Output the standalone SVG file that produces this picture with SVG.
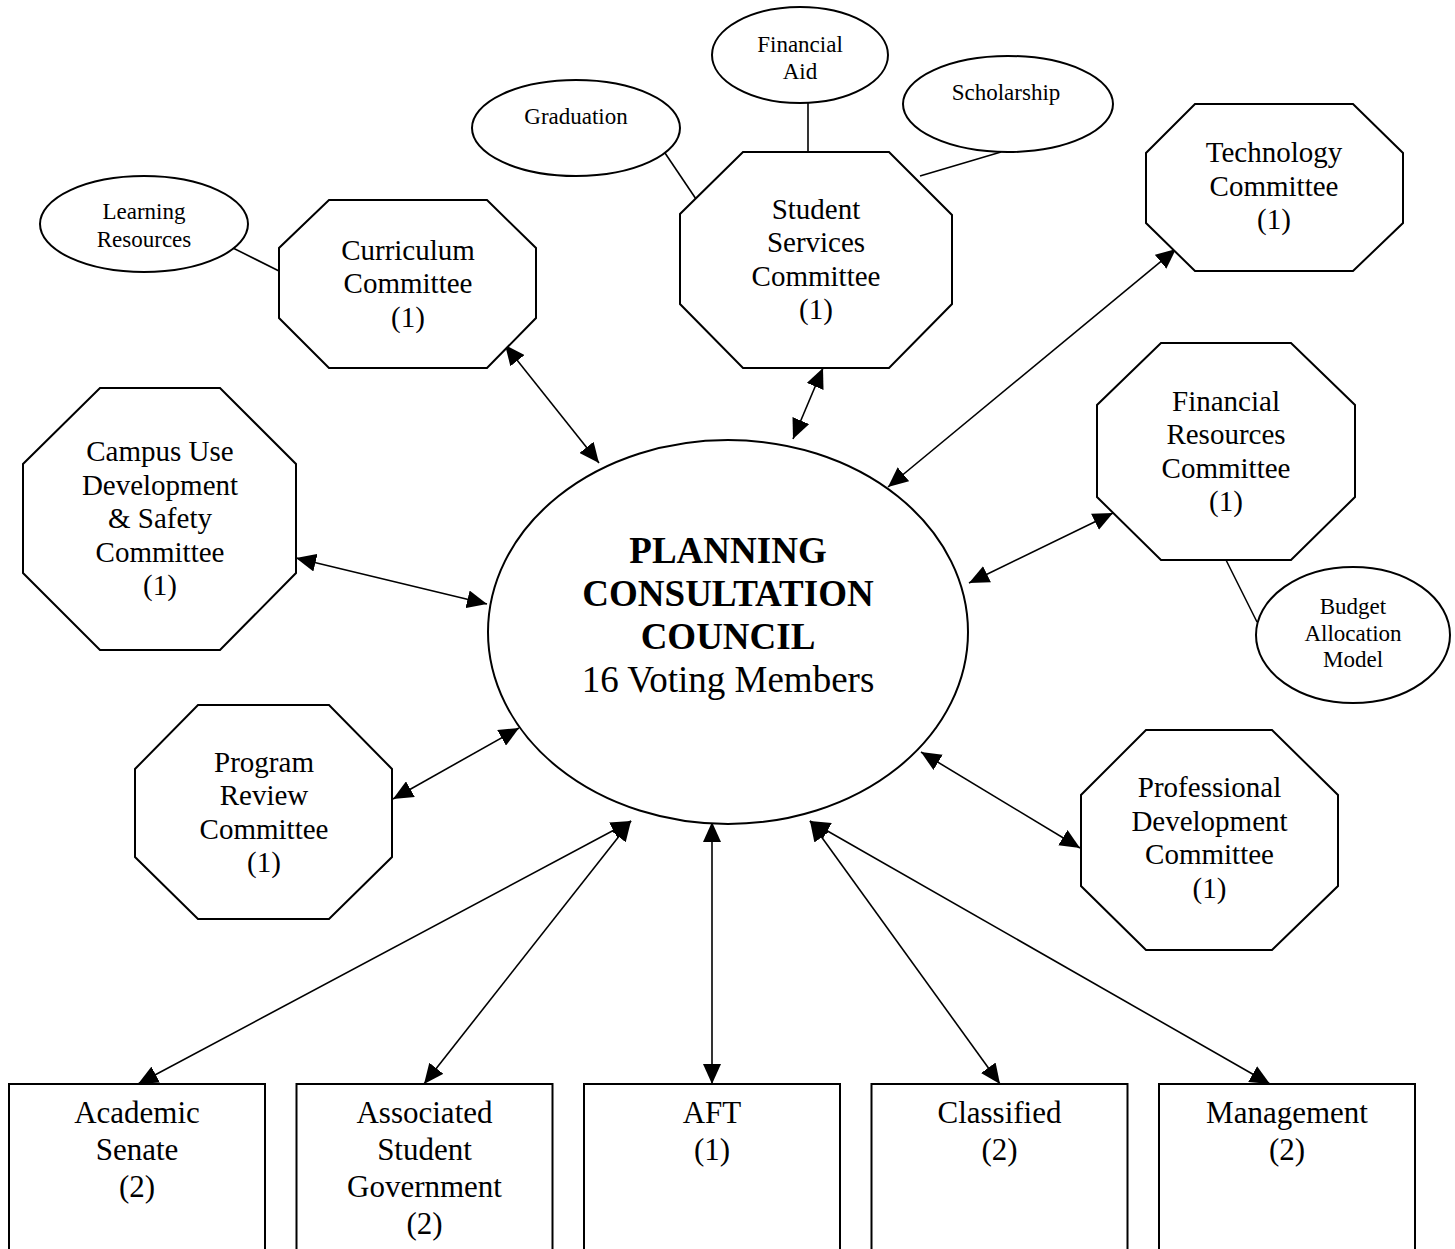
<svg xmlns="http://www.w3.org/2000/svg" width="1455" height="1249" viewBox="0 0 1455 1249">
<style>
.shape{fill:#fff;stroke:#000;stroke-width:2}
.link{stroke:#000;stroke-width:1.6;fill:none}
.arr{stroke:#000;stroke-width:1.6;fill:none;marker-start:url(#ah);marker-end:url(#ah)}
text{font-family:"Liberation Serif","Times New Roman",serif;fill:#000;text-anchor:middle}
.oct{font-size:29px}
.sm{font-size:23px}
.box{font-size:31px}
.ctr{font-size:37px}
.b{font-weight:bold}
</style>
<defs>
<marker id="ah" viewBox="0 0 20 18" refX="20" refY="9" markerWidth="20" markerHeight="18" markerUnits="userSpaceOnUse" orient="auto-start-reverse">
<path d="M0,0 L20,9 L0,18 z" fill="#000"/>
</marker>
</defs>
<rect width="1455" height="1249" fill="#fff"/>

<g id="connectors">
<line class="link" x1="233" y1="248" x2="279" y2="271"/>
<line class="link" x1="665" y1="153" x2="696" y2="199"/>
<line class="link" x1="808" y1="103" x2="808" y2="152"/>
<line class="link" x1="920" y1="176" x2="1001" y2="152"/>
<line class="link" x1="1226" y1="560" x2="1257" y2="622"/>
<line class="arr" x1="505" y1="345" x2="599" y2="463"/>
<line class="arr" x1="823" y1="368" x2="793" y2="439"/>
<line class="arr" x1="1176" y1="249" x2="888" y2="487"/>
<line class="arr" x1="1113" y1="513" x2="969" y2="583"/>
<line class="arr" x1="296" y1="558" x2="487" y2="604"/>
<line class="arr" x1="393" y1="799" x2="519" y2="728"/>
<line class="arr" x1="1080" y1="848" x2="921" y2="752"/>
<line class="arr" x1="631" y1="821" x2="138" y2="1084"/>
<line class="arr" x1="631" y1="821" x2="424" y2="1084"/>
<line class="arr" x1="712" y1="822" x2="712" y2="1084"/>
<line class="arr" x1="810" y1="821" x2="1000" y2="1084"/>
<line class="arr" x1="810" y1="821" x2="1270" y2="1084"/>
</g>

<g id="pcc">
<ellipse class="shape" cx="728" cy="632" rx="240" ry="192"/>
<text class="ctr b" x="728" y="563">PLANNING</text>
<text class="ctr b" x="728" y="606">CONSULTATION</text>
<text class="ctr b" x="728" y="649">COUNCIL</text>
<text class="ctr" x="728" y="692">16 Voting Members</text>
</g>

<g id="learning-resources">
<ellipse class="shape" cx="144" cy="224" rx="104" ry="48"/>
<text class="sm" x="144" y="219">Learning</text>
<text class="sm" x="144" y="246.5">Resources</text>
</g>

<g id="graduation">
<ellipse class="shape" cx="576" cy="128" rx="104" ry="48"/>
<text class="sm" x="576" y="124">Graduation</text>
</g>

<g id="financial-aid">
<ellipse class="shape" cx="800" cy="55" rx="88" ry="48"/>
<text class="sm" x="800" y="52">Financial</text>
<text class="sm" x="800" y="79">Aid</text>
</g>

<g id="scholarship">
<ellipse class="shape" cx="1008" cy="104" rx="105" ry="48"/>
<text class="sm" x="1006" y="100">Scholarship</text>
</g>

<g id="budget">
<ellipse class="shape" cx="1353" cy="635" rx="97" ry="68"/>
<text class="sm" x="1353" y="614">Budget</text>
<text class="sm" x="1353" y="640.5">Allocation</text>
<text class="sm" x="1353" y="667">Model</text>
</g>

<g id="curriculum">
<polygon class="shape" points="329,200 487,200 536,248 536,318 487,368 329,368 279,318 279,248"/>
<text class="oct" x="408" y="259.5">Curriculum</text>
<text class="oct" x="408" y="293">Committee</text>
<text class="oct" x="408" y="326.5">(1)</text>
</g>

<g id="student-services">
<polygon class="shape" points="743,152 889,152 952,215 952,304 889,368 743,368 680,304 680,214"/>
<text class="oct" x="816" y="218.5">Student</text>
<text class="oct" x="816" y="252">Services</text>
<text class="oct" x="816" y="285.5">Committee</text>
<text class="oct" x="816" y="319">(1)</text>
</g>

<g id="technology">
<polygon class="shape" points="1195,104 1353,104 1403,153 1403,223 1353,271 1195,271 1146,223 1146,153"/>
<text class="oct" x="1274" y="162">Technology</text>
<text class="oct" x="1274" y="195.5">Committee</text>
<text class="oct" x="1274" y="229">(1)</text>
</g>

<g id="financial-resources">
<polygon class="shape" points="1161,343 1291,343 1355,405 1355,497 1291,560 1161,560 1097,497 1097,405"/>
<text class="oct" x="1226" y="410.5">Financial</text>
<text class="oct" x="1226" y="444">Resources</text>
<text class="oct" x="1226" y="477.5">Committee</text>
<text class="oct" x="1226" y="511">(1)</text>
</g>

<g id="campus-use">
<polygon class="shape" points="100,388 220,388 296,464 296,573 220,650 100,650 23,573 23,464"/>
<text class="oct" x="160" y="461">Campus Use</text>
<text class="oct" x="160" y="494.5">Development</text>
<text class="oct" x="160" y="528">&amp; Safety</text>
<text class="oct" x="160" y="561.5">Committee</text>
<text class="oct" x="160" y="595">(1)</text>
</g>

<g id="program-review">
<polygon class="shape" points="198,705 329,705 392,769 392,857 329,919 198,919 135,857 135,769"/>
<text class="oct" x="264" y="771.5">Program</text>
<text class="oct" x="264" y="805">Review</text>
<text class="oct" x="264" y="838.5">Committee</text>
<text class="oct" x="264" y="872">(1)</text>
</g>

<g id="professional-development">
<polygon class="shape" points="1146,730 1272,730 1338,795 1338,886 1272,950 1146,950 1081,886 1081,795"/>
<text class="oct" x="1209.5" y="797">Professional</text>
<text class="oct" x="1209.5" y="830.5">Development</text>
<text class="oct" x="1209.5" y="864">Committee</text>
<text class="oct" x="1209.5" y="897.5">(1)</text>
</g>

<g id="academic-senate">
<rect class="shape" x="9" y="1084" width="256" height="200"/>
<text class="box" x="137" y="1123">Academic</text>
<text class="box" x="137" y="1160">Senate</text>
<text class="box" x="137" y="1197">(2)</text>
</g>

<g id="associated-student-government">
<rect class="shape" x="296.5" y="1084" width="256" height="200"/>
<text class="box" x="424.5" y="1123">Associated</text>
<text class="box" x="424.5" y="1160">Student</text>
<text class="box" x="424.5" y="1197">Government</text>
<text class="box" x="424.5" y="1234">(2)</text>
</g>

<g id="aft">
<rect class="shape" x="584" y="1084" width="256" height="200"/>
<text class="box" x="712" y="1123">AFT</text>
<text class="box" x="712" y="1160">(1)</text>
</g>

<g id="classified">
<rect class="shape" x="871.5" y="1084" width="256" height="200"/>
<text class="box" x="999.5" y="1123">Classified</text>
<text class="box" x="999.5" y="1160">(2)</text>
</g>

<g id="management">
<rect class="shape" x="1159" y="1084" width="256" height="200"/>
<text class="box" x="1287" y="1123">Management</text>
<text class="box" x="1287" y="1160">(2)</text>
</g>
</svg>
